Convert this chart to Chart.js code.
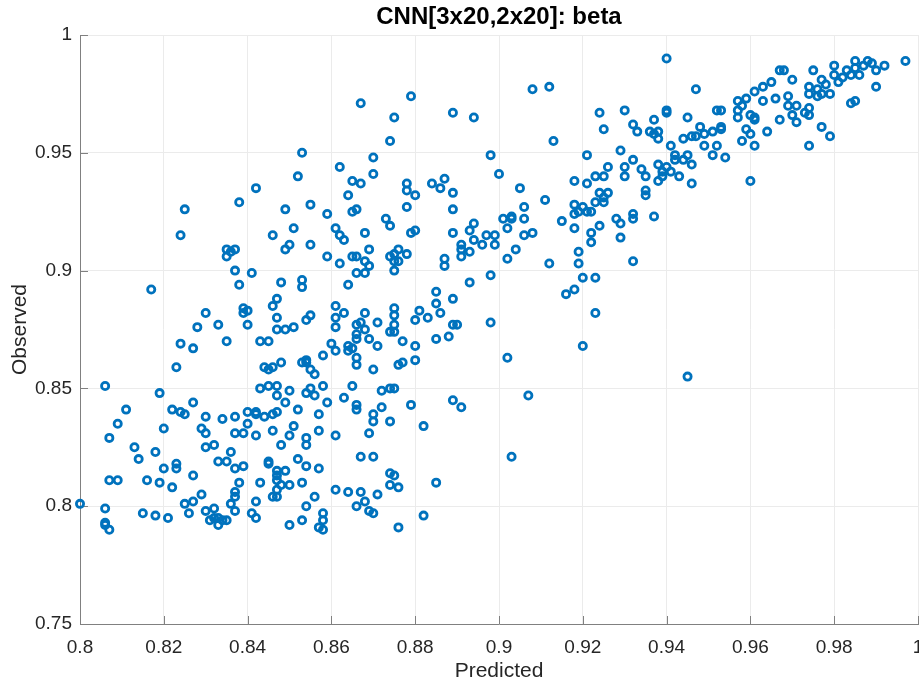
<!DOCTYPE html>
<html>
<head>
<meta charset="utf-8">
<script src="https://cdn.jsdelivr.net/npm/chart.js@4/dist/chart.umd.min.js"></script>
<style>
  html, body { margin: 0; padding: 0; background: #fff; }
  #wrap { width: 919px; height: 684px; }
</style>
</head>
<body>
<div id="wrap"><canvas id="scatter" width="919" height="684"></canvas></div>
<script>
const chartTitle = 'CNN[3x20,2x20]: beta';
const xTitle = 'Predicted';
const yTitle = 'Observed';
const xTicks = [0.8, 0.82, 0.84, 0.86, 0.88, 0.9, 0.92, 0.94, 0.96, 0.98, 1];
const yTicks = [0.75, 0.8, 0.85, 0.9, 0.95, 1];

// predicted values (x)
const predicted = [
  .867,.853,.862,.852,.865,.867,.842,.864,.838,.825,.849,.855,.859,.866,.865,.851,.861,.824,.846,.862,
  .879,.875,.889,.894,.908,.912,.874,.913,.898,.870,.870,.878,.878,.880,.884,.887,.886,.889,.900,.905,
  .911,.918,.921,.921,.924,.925,.930,.932,.933,.929,.932,.926,.930,.930,.923,.925,.924,.926,.925,.925,
  .923,.918,.918,.920,.921,.922,.919,.878,.889,.873,.874,.915,.918,.924,.928,.929,.932,.932,.901,.903,
  .903,.902,.906,.906,.894,.893,.908,.906,.897,.899,.889,.879,.880,.868,.922,.929,
  .940,.947,.967,.968,.975,.970,.965,.963,.961,.959,.963,.966,.969,.957,.958,.957,.957,.960,.961,.961,
  .969,.971,.970,.971,.973,.974,.974,.967,.974,.974,.976,.977,.978,.976,.977,.979,.980,.980,.981,.982,
  .983,.984,.985,.985,.986,.988,.987,.989,.990,.992,.990,.997,.984,.985,.977,.979,.974,.964,.959,.960,
  .958,.961,.954,.951,.952,.949,.951,.953,.953,.948,.949,.946,.947,.944,.945,.940,.940,.952,.953,.937,
  .936,.938,.937,.938,.941,.942,.942,.944,.945,.946,.938,.940,.939,.941,.943,.939,.938,.934,.935,.946,.960,.935,.935,.937,.945,
  .863,.855,.850,.849,.835,.835,.836,.837,.859,.862,.865,.866,.837,.841,.838,.848,.853,.853,.864,.866,
  .817,.847,.846,.861,.863,.861,.861,.839,.839,.840,.830,.828,.833,.840,.847,.847,.849,.851,.854,.855,
  .866,.866,.866,.824,.827,.835,.843,.845,.860,.861,.864,.864,.865,.866,.858,.853,.854,.854,.855,.856,
  .866,.848,.846,.844,.845,.823,.806,.819,.811,.809,.820,.822,.824,.825,.827,.830,.829,.834,.837,.840,
  .840,.842,.842,.844,.846,.847,.846,.843,.845,.847,.847,.850,.849,.852,.854,.855,.856,.858,.859,.857,
  .851,.857,.861,.863,.865,.866,.866,.837,.839,.894,.896,.891,.891,.891,.893,.899,.904,
  .902,.887,.887,.878,.876,.875,.874,.875,.876,.875,.869,.868,.869,.868,.912,.919,.922,.919,.932,
  .920,.923,.898,.893,.885,.885,.886,.889,.881,.880,.883,.875,.875,.875,.874,.875,.868,.867,.868,.869,
  .871,.871,.877,.880,.880,.877,.876,.870,.889,.890,.885,.888,.898,.916,.918,.923,.920,.902,.907,.872,.874,.875,
  .870,.872,.870,.874,.879,.882,.889,.891,.869,
  .807,.813,.814,.818,.807,.809,.816,.819,.822,.820,.823,.823,.827,.830,.830,.832,.836,.833,.835,.837,.839,
  .842,.850,.848,.854,.854,.845,.845,.852,.854,.857,.849,.847,.847,.847,.848,.850,.853,.843,.838,.837,
  .837,.829,.825,.827,.836,.837,.842,.846,.847,.847,.856,.861,.864,.867,.867,.866,.854,.800,.806,.806,
  .806,.807,.815,.818,.821,.826,.830,.832,.831,.832,.833,.833,.834,.835,.841,.842,.850,.853,.858,.858,.857,.858,
  .870,.903,.874,.875,.874,.876,.885,.871,.868,.869,.870,.882,.876
];

// observed values (y), same order
const observed = [
  .971,.950,.944,.940,.938,.937,.935,.932,.929,.926,.926,.928,.924,.926,.925,.918,.918,.915,.915,.915,
  .974,.965,.967,.965,.977,.978,.955,.955,.949,.948,.941,.937,.934,.932,.937,.939,.935,.933,.941,.935,
  .930,.938,.937,.949,.967,.960,.968,.962,.959,.951,.947,.944,.944,.940,.940,.940,.933,.933,.931,.929,
  .929,.928,.924,.927,.925,.925,.925,.927,.926,.922,.919,.921,.918,.919,.922,.920,.924,.922,.922,.923,
  .922,.918,.927,.922,.920,.917,.916,.915,.915,.915,.916,.916,.917,.916,.916,.914,
  .990,.977,.985,.985,.985,.981,.980,.978,.976,.973,.972,.973,.974,.972,.970,.968,.965,.966,.965,.964,
  .970,.970,.966,.963,.967,.969,.966,.964,.978,.975,.977,.981,.979,.974,.975,.975,.987,.983,.980,.982,
  .985,.983,.989,.986,.983,.989,.987,.988,.985,.987,.978,.989,.971,.972,.961,.957,.953,.959,.960,.958,
  .955,.953,.948,.949,.953,.953,.959,.961,.960,.961,.958,.957,.957,.956,.965,.968,.967,.968,.968,.964,
  .959,.959,.958,.956,.953,.949,.947,.947,.949,.945,.945,.944,.942,.942,.940,.940,.938,.943,.940,.937,.938,.934,.932,.923,.855,
  .913,.911,.911,.909,.909,.906,.908,.909,.906,.903,.906,.906,.900,.899,.894,.895,.896,.893,.894,.899,
  .892,.888,.885,.885,.882,.880,.876,.882,.884,.883,.882,.876,.877,.877,.880,.875,.875,.876,.879,.881,
  .877,.873,.871,.869,.867,.870,.870,.870,.869,.866,.868,.866,.867,.863,.864,.861,.862,.861,.858,.856,
  .860,.861,.859,.859,.858,.859,.851,.848,.841,.835,.833,.841,.840,.839,.844,.838,.833,.837,.838,.840,
  .835,.840,.839,.838,.839,.840,.832,.850,.851,.851,.847,.849,.844,.841,.848,.850,.847,.851,.844,.839,
  .834,.832,.830,.846,.851,.843,.841,.831,.831,.913,.911,.911,.909,.906,.908,.911,.909,
  .905,.905,.902,.907,.909,.907,.906,.904,.904,.900,.909,.904,.902,.899,.903,.908,.912,.903,.904,
  .897,.897,.898,.895,.891,.886,.882,.888,.883,.879,.880,.884,.881,.877,.874,.874,.882,.878,.875,.871,
  .878,.868,.870,.868,.862,.861,.860,.858,.877,.877,.871,.872,.878,.890,.892,.882,.868,.863,.847,.849,.850,.850,
  .839,.842,.836,.836,.843,.834,.845,.842,.831,
  .829,.825,.820,.823,.811,.811,.811,.810,.808,.816,.816,.818,.813,.831,.825,.826,.823,.819,.819,.816,.817,
  .830,.830,.826,.829,.826,.819,.818,.820,.817,.816,.815,.815,.813,.811,.809,.809,.810,.810,.810,.806,
  .804,.805,.801,.802,.801,.798,.802,.804,.804,.807,.804,.807,.806,.821,.806,.800,.800,.801,.799,.793,
  .792,.790,.797,.796,.795,.797,.798,.799,.794,.795,.795,.792,.794,.794,.797,.795,.792,.794,.797,.794,.791,.790,
  .821,.821,.814,.813,.809,.808,.810,.805,.802,.798,.797,.796,.791
];

const FONT = "'Liberation Sans', Arial, Helvetica, sans-serif";
const axisColor = '#808080';
const gridColor = '#ebebeb';
const markColor = '#0072BD';

// MATLAB style ticks pointing into the plot
const innerTicks = {
  id: 'innerTicks',
  beforeDatasetsDraw(chart) {
    const { ctx, chartArea, scales } = chart;
    ctx.save();
    ctx.strokeStyle = axisColor;
    ctx.lineWidth = 1;
    ctx.beginPath();
    xTicks.forEach(v => {
      const px = Math.round(scales.x.getPixelForValue(v)) + 0.5;
      ctx.moveTo(px, chartArea.bottom);
      ctx.lineTo(px, chartArea.bottom - 8);
    });
    yTicks.forEach(v => {
      const py = Math.round(scales.y.getPixelForValue(v)) + 0.5;
      ctx.moveTo(chartArea.left, py);
      ctx.lineTo(chartArea.left + 8, py);
    });
    ctx.stroke();
    ctx.restore();
  }
};

const points = predicted.map((x, i) => ({ x: x, y: observed[i] }));

new Chart(document.getElementById('scatter'), {
  type: 'scatter',
  data: {
    datasets: [{
      data: points,
      pointStyle: 'circle',
      pointRadius: 3.6,
      pointBorderWidth: 2.8,
      borderColor: markColor,
      backgroundColor: 'rgba(0,0,0,0)',
      clip: false
    }]
  },
  options: {
    responsive: false,
    animation: false,
    events: [],
    layout: { autoPadding: false, padding: { left: 0, right: 1, top: 0, bottom: 0 } },
    plugins: {
      legend: { display: false },
      tooltip: { enabled: false },
      title: {
        display: true,
        text: chartTitle,
        fullSize: false,
        color: '#000',
        font: { family: FONT, size: 24, weight: 'bold', lineHeight: 1 },
        padding: { top: 5, bottom: 6 }
      }
    },
    scales: {
      x: {
        type: 'linear',
        min: 0.8,
        max: 1,
        afterBuildTicks: s => { s.ticks = xTicks.map(v => ({ value: v })); },
        afterFit: s => { s.height = 60; s.paddingLeft = 0; s.paddingRight = 0; },
        ticks: {
          color: '#262626',
          font: { family: FONT, size: 19 },
          padding: 12,
          maxRotation: 0,
          callback: v => String(v)
        },
        grid: { color: gridColor, drawTicks: false },
        border: { color: axisColor, width: 1 },
        title: {
          display: true,
          text: xTitle,
          color: '#262626',
          font: { family: FONT, size: 21 },
          padding: { top: 0, bottom: 0 }
        }
      },
      y: {
        type: 'linear',
        min: 0.75,
        max: 1,
        afterBuildTicks: s => { s.ticks = yTicks.map(v => ({ value: v })); },
        afterFit: s => { s.width = 80; s.paddingTop = 0; s.paddingBottom = 0; },
        ticks: {
          color: '#262626',
          font: { family: FONT, size: 19 },
          padding: 8,
          callback: v => String(v)
        },
        grid: { color: gridColor, drawTicks: false },
        border: { color: axisColor, width: 1 },
        title: {
          display: true,
          text: yTitle,
          color: '#262626',
          font: { family: FONT, size: 21 },
          padding: { top: 8, bottom: 0 }
        }
      }
    }
  },
  plugins: [innerTicks]
});
</script>
</body>
</html>
